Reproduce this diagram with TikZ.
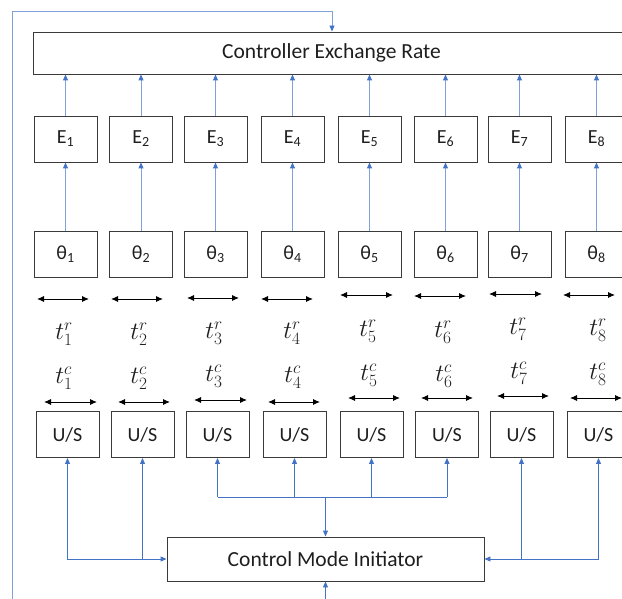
\documentclass[tikz,border=0pt]{standalone}
\usepackage{fontspec}
\setmainfont{Carlito}
\usetikzlibrary{arrows.meta}
\definecolor{linkblue}{HTML}{4472C4}
\definecolor{softblue}{HTML}{7FA0DA}
\definecolor{boxline}{HTML}{3A3A3A}
\definecolor{ink}{HTML}{1E1E1E}
\begin{document}
\begin{tikzpicture}[x=1pt,y=-1pt,
  cell/.style={draw=boxline,line width=0.9pt,minimum width=63pt,minimum height=46pt,
    inner sep=0pt,text=ink,font=\fontsize{20}{24}\selectfont},
  wide/.style={draw=boxline,line width=0.9pt,inner sep=0pt,text=ink,
    font=\fontsize{21.5}{26}\selectfont},
  lab/.style={inner sep=0pt,text=ink,font=\fontsize{26}{30}\selectfont},
  uplink/.style={draw=softblue,line width=0.9pt,
    -{Triangle[length=6pt,width=5pt,color=linkblue]}},
  link/.style={draw=linkblue,line width=0.9pt,-{Triangle[length=6pt,width=5pt]}},
  dlink/.style={draw=linkblue,line width=0.9pt,
    {Triangle[length=6pt,width=5pt]}-{Triangle[length=6pt,width=5pt]}},
  plain/.style={draw=linkblue,line width=0.9pt},
  span/.style={draw=black,line width=0.9pt,
    {Latex[length=7pt,width=6pt]}-{Latex[length=7pt,width=6pt]}}]
\useasboundingbox (0,0) rectangle (622,599);
\clip (0,0) rectangle (622,599);

% top and bottom wide boxes
\node[wide,minimum width=597pt,minimum height=42pt] (ctrl) at (331.5,53) {Controller Exchange Rate};
\node[wide,minimum width=317pt,minimum height=44pt] (cmi) at (325.5,559) {Control Mode Initiator};

% E and theta columns
\foreach \i/\x in {1/65.5,2/141,3/215.5,4/292.5,5/369.5,6/445.5,7/519.5,8/596.5}{
  \node[cell] (e\i) at (\x,139) {E\textsubscript{\i}};
  \node[cell] (th\i) at (\x,254) {θ\textsubscript{\i}};
  \draw[uplink] (e\i.north) -- (e\i.north |- ctrl.south);
  \draw[uplink] (th\i.north) -- (e\i.south);
}

% U/S boxes
\foreach \i/\x in {1/67.5,2/142.5,3/217.5,4/294.5,5/371.5,6/447,7/521.5,8/598.5}{
  \node[cell] (us\i) at (\x,434.5) {U/S};
}

% time spans with their labels
\foreach \i/\a/\b/\y/\lx/\ly in {1/37/89/299/64/334,2/111/163/299/139/334,3/187/239/298/214/333,
    4/261/313/299/292/333,5/340/393/295/368/331,6/414/466/296/443/332,
    7/489/542/294/518/329,8/563/615/295/598/330}{
  \draw[span] (\a,\y) -- (\b,\y);
  \node[lab] (tr\i) at (\lx,\ly) {$t_{\i}^{r}$};
}
\foreach \i/\a/\b/\y/\lx/\ly in {1/44/97/402/64/378,2/118/170/402/139/378,3/194/247/400/214/376,
    4/268/320/402/293/377,5/348/400/398/369/375,6/421/473/398/444/376,
    7/497/549/396/519/373,8/570/622/398/598/374}{
  \draw[span] (\a,\y) -- (\b,\y);
  \node[lab] (tc\i) at (\lx,\ly) {$t_{\i}^{c}$};
}

% initiator links, left group
\draw[dlink] (us1.south) |- (cmi.west);
\draw[link] (us2.south |- cmi.west) -- (us2.south);
% right group
\draw[dlink] (us8.south) |- (cmi.east);
\draw[link] (us7.south |- cmi.east) -- (us7.south);
% middle bus
\coordinate (busL) at (217.5,497);
\coordinate (busR) at (447,497);
\draw[plain] (busL) -- (busR);
\draw[link] (busL) -- (us3.south);
\draw[link] (us4.south |- busL) -- (us4.south);
\draw[link] (us5.south |- busL) -- (us5.south);
\draw[link] (busR) -- (us6.south);
\draw[link] (cmi.north |- busL) -- (cmi.north);

% feedback loop
\coordinate (loopin) at (12,599);
\coordinate (looptop) at (332,11);
\draw[uplink] (loopin) |- (looptop) -- (looptop |- ctrl.north);
\coordinate (cmiin) at (325.5,599);
\draw[link] (cmiin) -- (cmi.south);
\end{tikzpicture}
\end{document}
